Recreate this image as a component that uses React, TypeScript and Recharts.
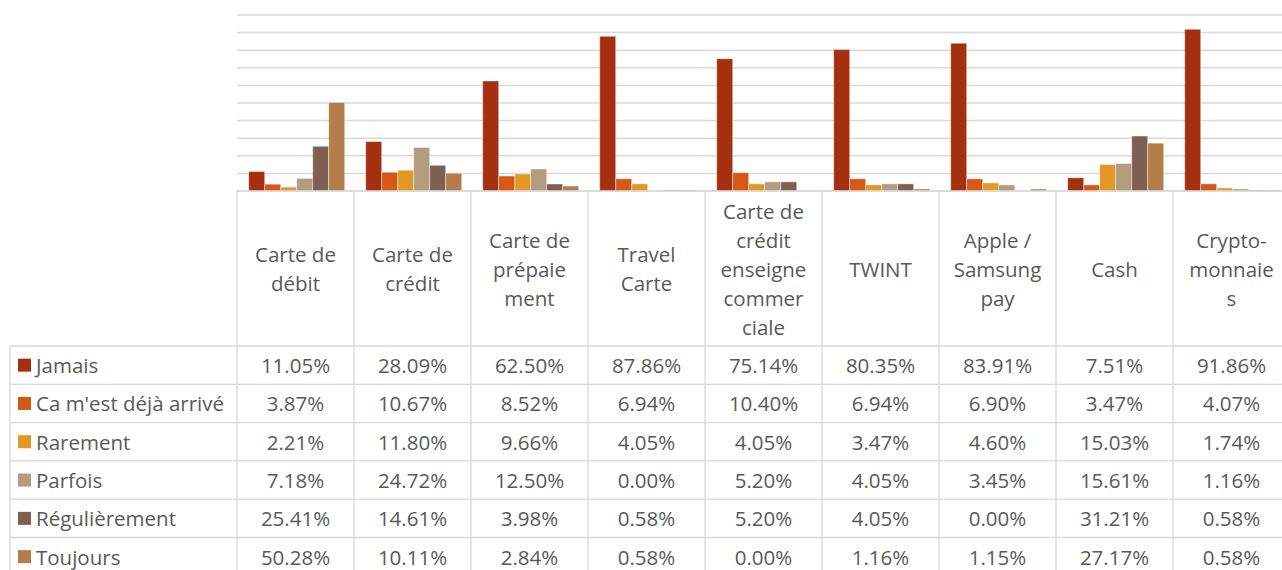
import { BarChart, Bar, CartesianGrid, XAxis, YAxis } from 'recharts';

const categories = [
  'Carte de débit',
  'Carte de crédit',
  'Carte de prépaiement',
  'Travel Carte',
  'Carte de crédit enseigne commerciale',
  'TWINT',
  'Apple / Samsung pay',
  'Cash',
  'Crypto-monnaies',
];

// how Excel wrapped the header cells
const categoryLines = [
  ['Carte de', 'débit'],
  ['Carte de', 'crédit'],
  ['Carte de', 'prépaie', 'ment'],
  ['Travel', 'Carte'],
  ['Carte de', 'crédit', 'enseigne', 'commer', 'ciale'],
  ['TWINT'],
  ['Apple /', 'Samsung', 'pay'],
  ['Cash'],
  ['Crypto-', 'monnaie', 's'],
];

const jamais = [11.05, 28.09, 62.5, 87.86, 75.14, 80.35, 83.91, 7.51, 91.86];
const dejaArrive = [3.87, 10.67, 8.52, 6.94, 10.4, 6.94, 6.9, 3.47, 4.07];
const rarement = [2.21, 11.8, 9.66, 4.05, 4.05, 3.47, 4.6, 15.03, 1.74];
const parfois = [7.18, 24.72, 12.5, 0.0, 5.2, 4.05, 3.45, 15.61, 1.16];
const regulierement = [25.41, 14.61, 3.98, 0.58, 5.2, 4.05, 0.0, 31.21, 0.58];
const toujours = [50.28, 10.11, 2.84, 0.58, 0.0, 1.16, 1.15, 27.17, 0.58];

const seriesKeys = ['jamais', 'deja', 'rarement', 'parfois', 'regulierement', 'toujours'];
const seriesNames = ['Jamais', "Ca m'est déjà arrivé", 'Rarement', 'Parfois', 'Régulièrement', 'Toujours'];
const seriesValues = [jamais, dejaArrive, rarement, parfois, regulierement, toujours];
const seriesColors = ['#a5300f', '#d55816', '#e19825', '#b19c7d', '#7f5f52', '#b27d49'];

const yTicks = [0, 10, 20, 30, 40, 50, 60, 70, 80, 90, 100];

const data = categories.map((name, i) => {
  const row: Record<string, string | number> = { name };
  seriesKeys.forEach((k, s) => {
    row[k] = seriesValues[s][i];
  });
  return row;
});

const W = 1290;
const H = 580;
const LEFT = 237;
const TOP = 15;
const BASE = 191;
const HEADER_BOTTOM = 346;
const ROW_H = 38.3;
const TABLE_LEFT = 10;
const COL_W = (W - LEFT) / categories.length;
const LINE = '#d9d9d9';
const TEXT = '#595959';
const FONT = '"Open Sans", sans-serif';
const FS = 20.5;

const fmt = (v: number) => `${v.toFixed(2)}%`;

function TableTick(props: any) {
  const { x, payload, index } = props;
  const i = categories.indexOf(payload.value);
  const left = x - COL_W / 2;
  const right = x + COL_W / 2;
  const lines = categoryLines[i] || [payload.value];
  const headerMid = (BASE + HEADER_BOTTOM) / 2;
  const lh = 29;
  const bottom = HEADER_BOTTOM + ROW_H * seriesNames.length;

  return (
    <g fontFamily={FONT} fontSize={FS} fill={TEXT}>
      {index === 0 && (
        <g>
          <line x1={left} x2={left} y1={BASE} y2={bottom} stroke={LINE} strokeWidth={1.3} />
          <line x1={TABLE_LEFT} x2={TABLE_LEFT} y1={HEADER_BOTTOM} y2={bottom} stroke={LINE} strokeWidth={1.3} />
          {seriesNames.map((n, s) => {
            const cy = HEADER_BOTTOM + ROW_H * s + ROW_H / 2;
            return (
              <g key={n}>
                <line
                  x1={TABLE_LEFT}
                  x2={left}
                  y1={HEADER_BOTTOM + ROW_H * s}
                  y2={HEADER_BOTTOM + ROW_H * s}
                  stroke={LINE}
                  strokeWidth={1.3}
                />
                <rect x={18} y={cy - 6.5} width={13} height={13} fill={seriesColors[s]} />
                <text x={36} y={cy} dominantBaseline="central" textAnchor="start" fill={TEXT}>
                  {n}
                </text>
              </g>
            );
          })}
        </g>
      )}
      <line x1={right} x2={right} y1={BASE} y2={bottom} stroke={LINE} strokeWidth={1.3} />
      {lines.map((t: string, k: number) => (
        <text
          key={k}
          x={x}
          y={headerMid + (k - (lines.length - 1) / 2) * lh}
          textAnchor="middle"
          dominantBaseline="central"
          fill={TEXT}
        >
          {t}
        </text>
      ))}
      {seriesValues.map((vals, s) => {
        const top = HEADER_BOTTOM + ROW_H * s;
        return (
          <g key={s}>
            <line x1={left} x2={right} y1={top} y2={top} stroke={LINE} strokeWidth={1.3} />
            <text x={x} y={top + ROW_H / 2} textAnchor="middle" dominantBaseline="central" fill={TEXT}>
              {fmt(vals[i])}
            </text>
          </g>
        );
      })}
    </g>
  );
}

export default function App() {
  return (
    <div style={{ position: 'absolute', left: 0, top: 0, width: 1282, height: 570, overflow: 'hidden', background: '#fff' }}>
      <BarChart
        width={W}
        height={H}
        data={data}
        margin={{ top: TOP, right: 0, left: LEFT, bottom: 0 }}
        barCategoryGap="10%"
        barGap={0}
      >
        <CartesianGrid vertical={false} stroke={LINE} strokeWidth={1.5} />
        <YAxis hide domain={[0, 100]} ticks={yTicks} interval={0} />
        <XAxis
          dataKey="name"
          interval={0}
          tickLine={false}
          axisLine={{ stroke: LINE, strokeWidth: 1.5 }}
          tick={<TableTick />}
          height={H - BASE}
        />
        {seriesKeys.map((k, s) => (
          <Bar
            key={k}
            dataKey={k}
            name={seriesNames[s]}
            fill={seriesColors[s]}
            stroke="#ffffff"
            strokeOpacity={0.6}
            strokeWidth={0.7}
            isAnimationActive={false}
          />
        ))}
      </BarChart>
    </div>
  );
}
